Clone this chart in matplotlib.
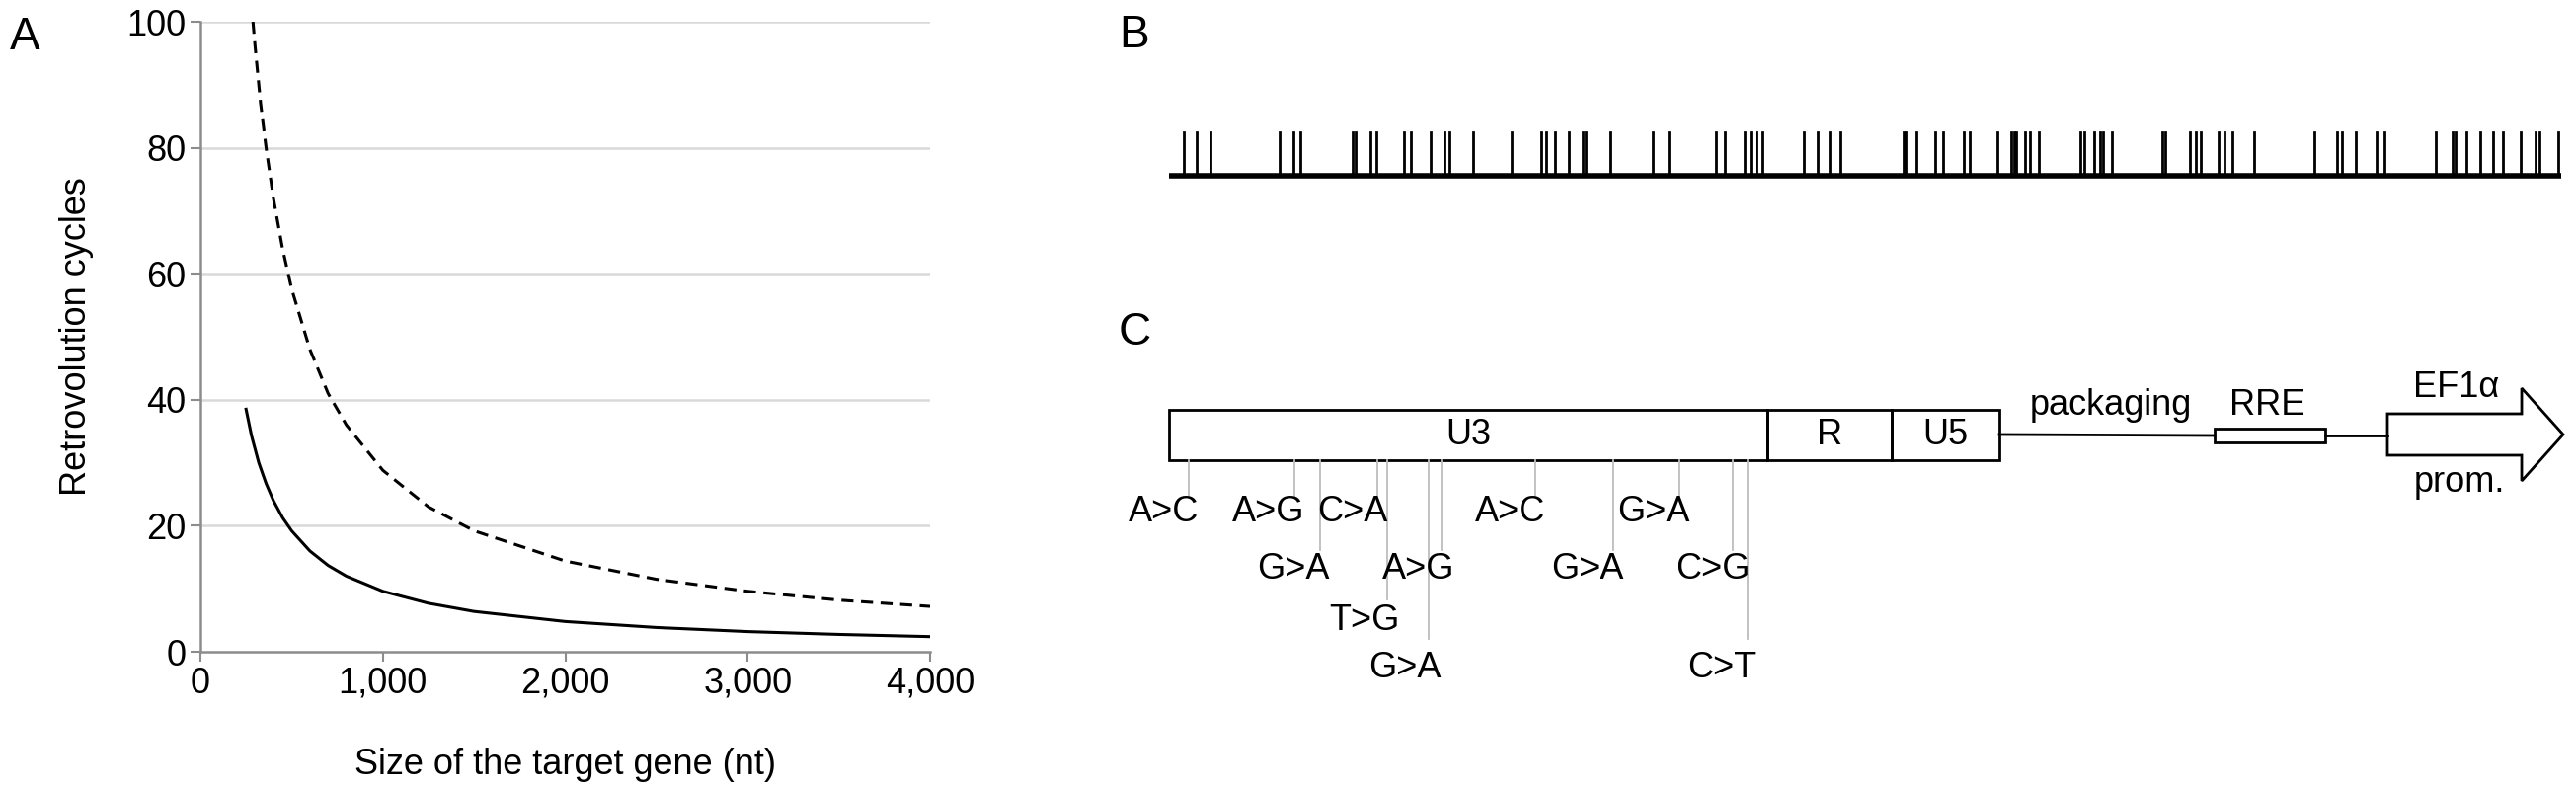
import matplotlib
matplotlib.use("Agg")
import matplotlib.pyplot as plt
from matplotlib.patches import Rectangle, Polygon

plt.rcParams['font.family'] = ['Liberation Sans', 'DejaVu Sans']

# Panel A data
solid_x = [250, 280, 320, 360, 400, 450, 500, 600, 700, 800, 1000, 1250, 1500, 2000, 2500, 3000, 3500, 4000]
solid_y = [38.5, 34.3, 30.0, 26.7, 24.0, 21.3, 19.2, 16.0, 13.7, 12.0, 9.6, 7.7, 6.4, 4.8, 3.85, 3.2, 2.75, 2.4]
dash_x = [288, 300, 330, 360, 400, 450, 500, 600, 700, 800, 1000, 1250, 1500, 2000, 2500, 3000, 3500, 4000]
dash_y = [100, 96, 87, 80, 72, 64, 57.6, 48, 41, 36, 28.8, 23, 19.2, 14.4, 11.5, 9.6, 8.2, 7.2]
x_ticks = [0, 1000, 2000, 3000, 4000]
x_tick_labels = ["0", "1,000", "2,000", "3,000", "4,000"]
y_ticks = [0, 20, 40, 60, 80, 100]

# Panel B: mutation positions along the sequence
seq_length = 1410
b_positions = [15, 28, 42, 112, 126, 133, 186, 189, 204, 210, 238, 245, 265, 279, 284, 308,
               347, 377, 382, 391, 405, 419, 422, 447, 490, 506, 554, 563, 583, 589, 595, 601,
               643, 657, 669, 680, 744, 746, 757, 776, 784, 805, 811, 839, 853, 856, 858, 867,
               872, 881, 923, 927, 937, 943, 946, 955, 1006, 1009, 1034, 1040, 1045, 1063, 1069,
               1077, 1099, 1160, 1183, 1188, 1202, 1223, 1231, 1283, 1300, 1303, 1314, 1328,
               1341, 1351, 1369, 1384, 1388, 1407]

# Panel C: mutations in U3
c_labels = ["A>C", "A>G", "G>A", "C>A", "T>G", "G>A", "A>G", "A>C", "G>A", "G>A", "C>G", "C>T"]
c_rows = [1, 1, 2, 1, 3, 4, 2, 1, 2, 1, 2, 4]

W, H = 2609, 800
FS = 26
fig = plt.figure(figsize=(W / 100, H / 100), dpi=100)

# ---------- Panel A ----------
axA = fig.add_axes([203 / W, (H - 660) / H, (942 - 203) / W, (660 - 22) / H])
axA.plot(solid_x, solid_y, color="black", lw=2.2)
axA.plot(dash_x, dash_y, color="black", lw=2.2, ls=(0, (4, 2.5)))
axA.set_xlim(0, 4000)
axA.set_ylim(0, 100)
axA.set_xticks(x_ticks)
axA.set_xticklabels(x_tick_labels)
axA.set_yticks(y_ticks)
for v in y_ticks[1:]:
    axA.axhline(v, color="#d9d9d9", lw=1.8, zorder=0)
for s in ["top", "right"]:
    axA.spines[s].set_visible(False)
for s in ["left", "bottom"]:
    axA.spines[s].set_color("#8c8c8c")
    axA.spines[s].set_linewidth(1.8)
axA.tick_params(axis="both", labelsize=FS, colors="#8c8c8c", labelcolor="black", length=7, width=1.5)
axA.set_xlabel("Size of the target gene (nt)", fontsize=FS, labelpad=34)
axA.set_ylabel("Retrovolution cycles", fontsize=FS, labelpad=24)

# ---------- Panels B, C ----------
ax = fig.add_axes([0, 0, 1, 1])
ax.set_xlim(0, W)
ax.set_ylim(H, 0)
ax.axis("off")

ax.text(10, 38, "A", fontsize=33, va="center", ha="left")
ax.text(1133, 36, "B", fontsize=33, va="center", ha="left")
ax.text(1133, 337, "C", fontsize=33, va="center", ha="left")

# B
bx0, bx1 = 1184, 2594
by = 178
sc = (bx1 - bx0) / seq_length
ax.plot([bx0, bx1], [by, by], color="black", lw=4, solid_capstyle="butt")
for p in b_positions:
    xx = bx0 + p * sc
    ax.plot([xx, xx], [by, 134], color="black", lw=2)

# C boxes
top, bot = 415, 466
for x0, x1, lab in [(1184, 1790, "U3"), (1790, 1916, "R"), (1916, 2025, "U5")]:
    ax.add_patch(Rectangle((x0, top), x1 - x0, bot - top, fill=False, ec="black", lw=2))
    ax.text((x0 + x1) / 2, (top + bot) / 2, lab, fontsize=FS, ha="center", va="center")

c_x = [1204, 1311, 1337, 1395, 1405, 1447, 1460, 1555, 1634, 1701, 1755, 1770]
row_y = {1: 518, 2: 577, 3: 628, 4: 677}
line_end = {1: 502, 2: 557, 3: 607, 4: 647}
label_dx = [-25, -26, -27, -25, -23, -24, -23, -25, -26, -26, -20, -26]
for xx, lab, r, dx in zip(c_x, c_labels, c_rows, label_dx):
    ax.plot([xx, xx], [bot, line_end[r]], color="#bdbdbd", lw=1.3)
    ax.text(xx + dx, row_y[r], lab, fontsize=FS, ha="center", va="center")

# packaging, RRE, promoter arrow
ax.plot([2025, 2243], [440, 441], color="black", lw=2)
ax.add_patch(Rectangle((2243, 434), 112, 14, fill=False, ec="black", lw=2))
ax.plot([2355, 2418], [441, 441], color="black", lw=2)
ax.add_patch(Polygon([(2418, 419), (2554, 419), (2554, 393), (2596, 440),
                      (2554, 487), (2554, 461), (2418, 461)], closed=True,
                     fill=False, ec="black", lw=2))
ax.text(2138, 410, "packaging", fontsize=FS, ha="center", va="center")
ax.text(2296, 410, "RRE", fontsize=FS, ha="center", va="center")
ax.text(2488, 392, "EF1α", fontsize=FS, ha="center", va="center")
ax.text(2491, 489, "prom.", fontsize=FS, ha="center", va="center")

fig.savefig("out.png", dpi=100)
